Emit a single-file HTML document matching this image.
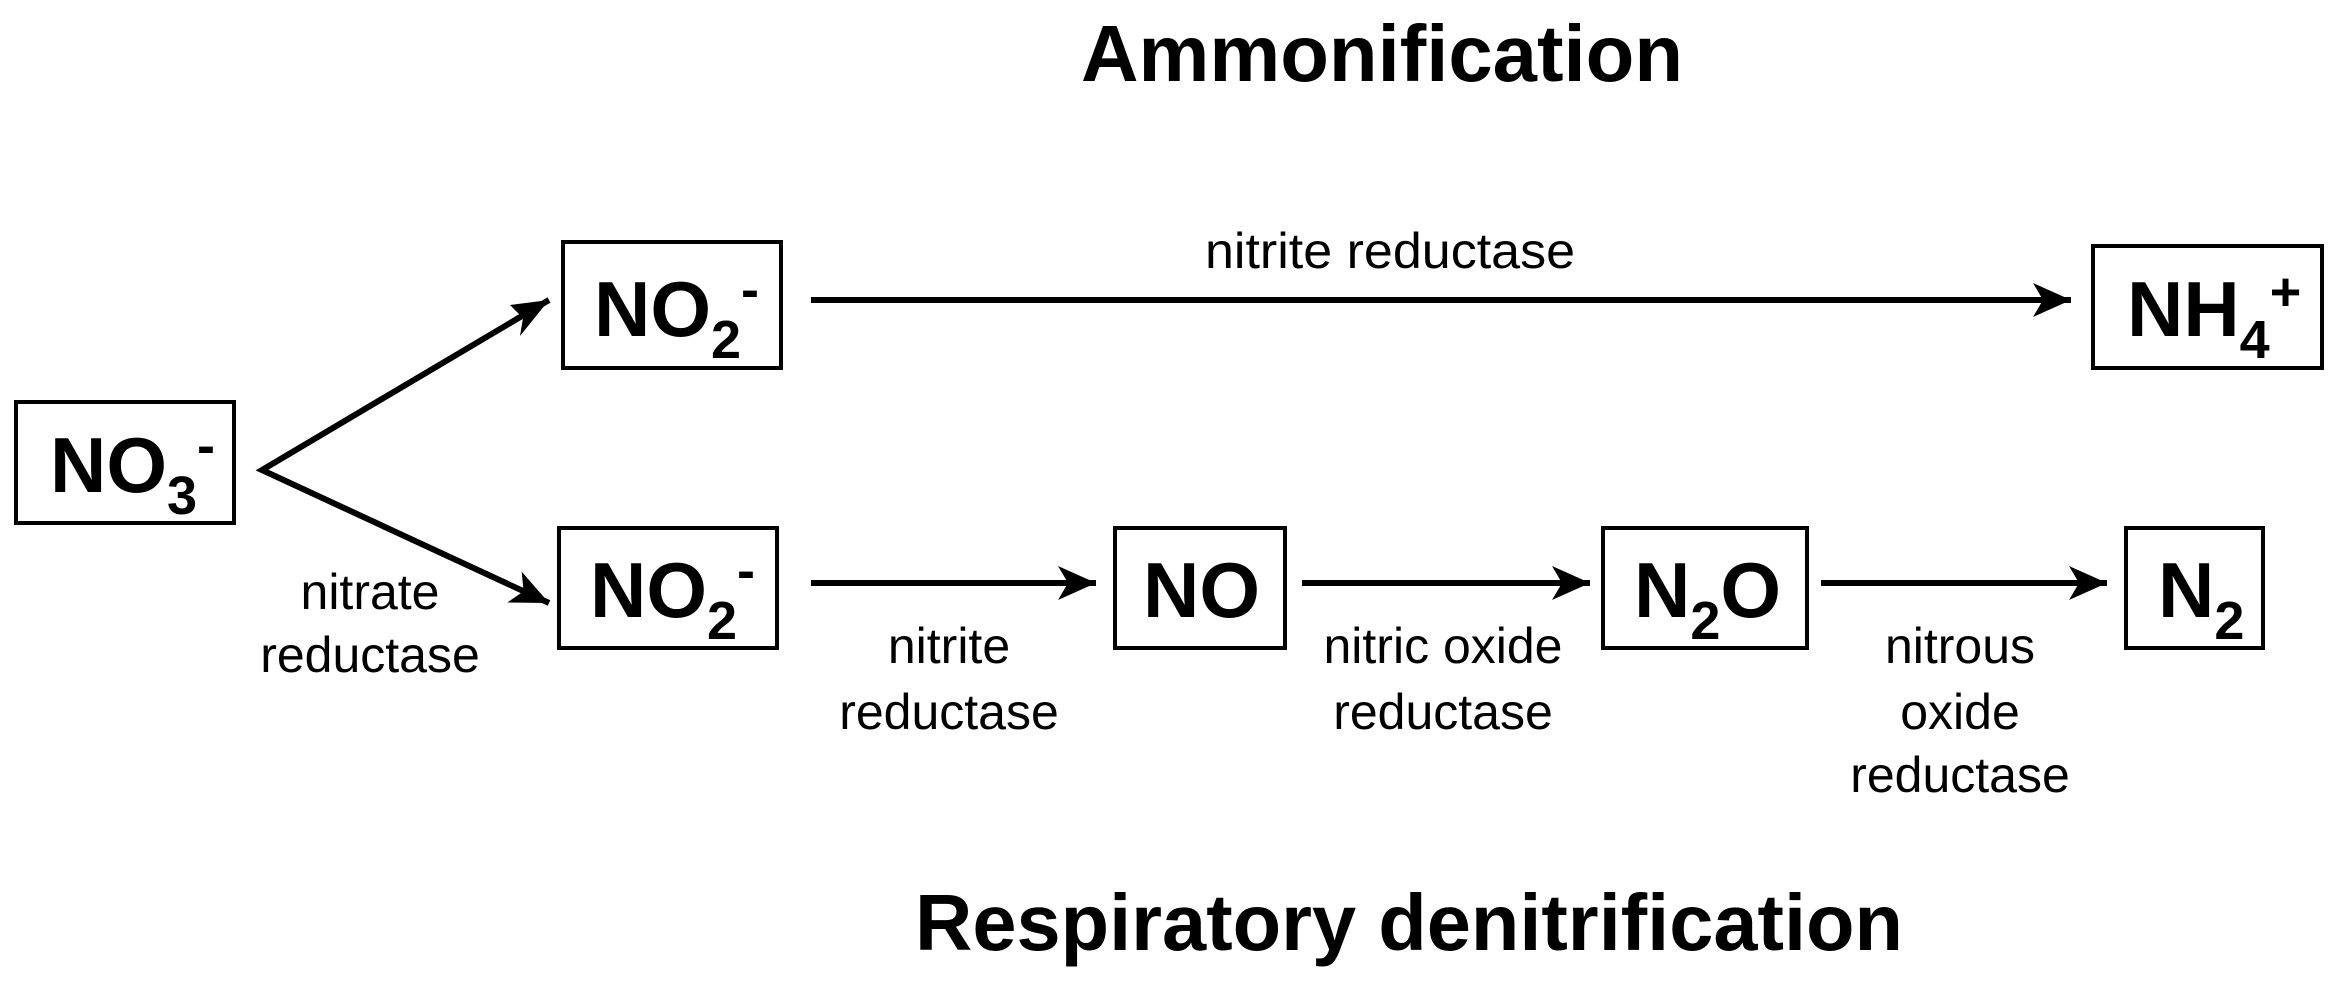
<!DOCTYPE html>
<html><head><meta charset="utf-8"><style>
html,body{margin:0;padding:0;background:#fff}
svg{display:block}
text{font-family:"Liberation Sans",Arial,sans-serif;fill:#000}
.t{font-weight:bold;font-size:80px}
.b{font-size:78px;font-weight:bold}
.l{font-size:50px}
</style></head><body>
<svg width="2343" height="990" viewBox="0 0 2343 990" xmlns="http://www.w3.org/2000/svg">
<defs>
<marker id="a" markerUnits="userSpaceOnUse" markerWidth="60" markerHeight="60" refX="40" refY="20" orient="auto">
<path d="M40,20 L2,3 L12,20 L2,37 Z" fill="#000"/>
</marker>
</defs>
<text class="t" x="1081" y="81" textLength="602" lengthAdjust="spacingAndGlyphs">Ammonification</text>
<text class="t" x="915" y="950" textLength="988" lengthAdjust="spacingAndGlyphs">Respiratory denitrification</text>

<g fill="none" stroke="#000" stroke-width="4">
<rect x="16" y="402" width="218" height="121"/>
<rect x="563" y="242" width="218" height="126"/>
<rect x="559" y="528" width="218" height="120"/>
<rect x="1115" y="528" width="170" height="120"/>
<rect x="1603" y="528" width="204" height="120"/>
<rect x="2126" y="528" width="137" height="120"/>
<rect x="2093" y="246" width="229" height="122"/>
</g>
<g stroke="#000" stroke-width="6" fill="none" marker-end="url(#a)">
<polyline points="549,300 262,470 549,603" marker-end="url(#a)"/>
<line x1="811" y1="300" x2="2071" y2="300"/>
<line x1="811" y1="583" x2="1096" y2="583"/>
<line x1="1302" y1="583" x2="1590" y2="583"/>
<line x1="1821" y1="583" x2="2107" y2="583"/>
</g>
<path d="M549,300 L510,305 L523,318 L520,336 Z" fill="#000"/>

<text class="b" x="50" y="492">NO<tspan font-size="54" dy="22">3</tspan><tspan font-size="54" dy="-50">-</tspan></text>
<text class="b" x="594" y="336">NO<tspan font-size="54" dy="22">2</tspan><tspan font-size="54" dy="-50">-</tspan></text>
<text class="b" x="590" y="617">NO<tspan font-size="54" dy="22">2</tspan><tspan font-size="54" dy="-50">-</tspan></text>
<text class="b" x="1143" y="617">NO</text>
<text class="b" x="1634" y="617">N<tspan font-size="54" dy="22">2</tspan><tspan dy="-22">O</tspan></text>
<text class="b" x="2158" y="617">N<tspan font-size="54" dy="22">2</tspan></text>
<text class="b" x="2127" y="336">NH<tspan font-size="54" dy="22">4</tspan><tspan font-size="54" dy="-48">+</tspan></text>

<g class="l" text-anchor="middle">
<text x="1390" y="268" textLength="370" lengthAdjust="spacingAndGlyphs">nitrite reductase</text>
<text x="370" y="609">nitrate</text>
<text x="370" y="672">reductase</text>
<text x="949" y="663">nitrite</text>
<text x="949" y="729">reductase</text>
<text x="1443" y="663">nitric oxide</text>
<text x="1443" y="729">reductase</text>
<text x="1960" y="663">nitrous</text>
<text x="1960" y="729">oxide</text>
<text x="1960" y="792">reductase</text>
</g>
</svg>
</body></html>
